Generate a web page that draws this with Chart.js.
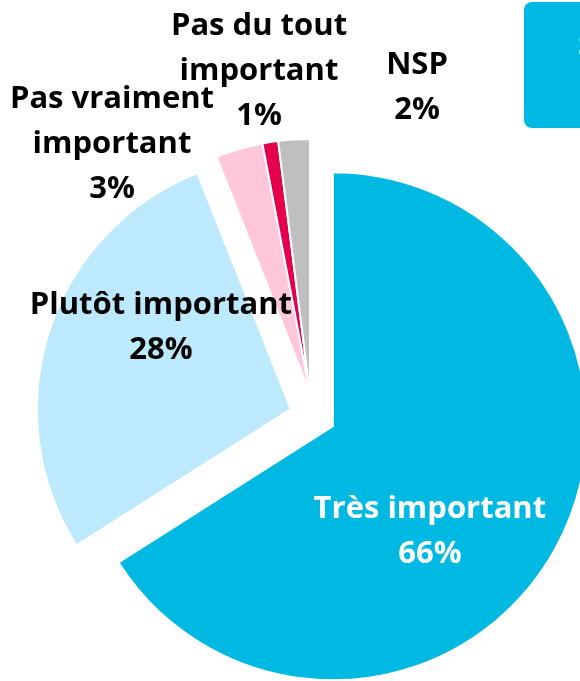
<!DOCTYPE html>
<html lang="fr">
<head>
<meta charset="UTF-8">
<title>Importance</title>
<style>
  * { margin: 0; padding: 0; box-sizing: border-box; }
  html, body { width: 580px; height: 681px; overflow: hidden; background: #fff; }
  .wrap { position: relative; width: 580px; height: 681px; overflow: hidden; }
  canvas { position: absolute; left: 0; top: 0; }
  .tag {
    position: absolute; left: 524px; top: 2px; width: 120px; height: 126px;
    background: #00b9e3; border-radius: 8px; color: #fff;
    font: 700 28px 'Open Sans', sans-serif; padding: 23px 0 0 54px;
  }
</style>
</head>
<body>
<div class="wrap">
  <canvas id="pie" width="580" height="681"></canvas>
  <div class="tag">S</div>
</div>
<script src="https://cdn.jsdelivr.net/npm/chart.js"></script>
<script>
// données
const labels = ['Très important', 'Plutôt important', 'Pas vraiment important', 'Pas du tout important', 'NSP'];
const labelLines = [['Très important'], ['Plutôt important'], ['Pas vraiment', 'important'], ['Pas du tout', 'important'], ['NSP']];
const values = [66, 28, 3, 1, 2];
const colors = ['#00b9e3', '#bde9fc', '#ffc7d9', '#e4004b', '#bfbfbf'];
const labelColors = ['#fff', '#000', '#000', '#000', '#000'];

// décalage des parts (px) et position des étiquettes par rapport à la pointe de chaque part
const explode = [[14.9, 8.2], [-27.1, -8.8], [-8, -25], [-8, -25], [-8, -25]];
const labelShift = [[97, 103], [-130, -84], [-198, -251], [-51, -324], [107, -308]];
const lineH = 45;
const capH = 22;

const explodePlugin = {
  id: 'explode',
  afterDatasetsUpdate(chart) {
    chart.getDatasetMeta(0).data.forEach((arc, i) => {
      arc.x += explode[i][0];
      arc.y += explode[i][1];
    });
  }
};

const labelPlugin = {
  id: 'sliceLabels',
  afterDatasetsDraw(chart) {
    const ctx = chart.ctx;
    ctx.save();
    ctx.font = '700 31px "Open Sans", sans-serif';
    ctx.textAlign = 'center';
    ctx.textBaseline = 'alphabetic';
    chart.getDatasetMeta(0).data.forEach((arc, i) => {
      const lines = labelLines[i].concat(values[i] + '%');
      const cx = arc.x + labelShift[i][0];
      const cy = arc.y + labelShift[i][1];
      ctx.fillStyle = labelColors[i];
      lines.forEach((t, j) => {
        ctx.fillText(t, cx, cy + (j - (lines.length - 1) / 2) * lineH + capH / 2);
      });
    });
    ctx.restore();
  }
};

new Chart(document.getElementById('pie'), {
  type: 'pie',
  data: {
    labels: labels,
    datasets: [{
      data: values,
      backgroundColor: colors,
      borderColor: '#fff',
      borderWidth: 2,
      radius: 254
    }]
  },
  options: {
    responsive: false,
    animation: false,
    events: [],
    layout: { padding: { left: 56, right: 0, top: 155, bottom: 0 } },
    plugins: {
      legend: { display: false },
      tooltip: { enabled: false }
    }
  },
  plugins: [explodePlugin, labelPlugin]
});
</script>
</body>
</html>
